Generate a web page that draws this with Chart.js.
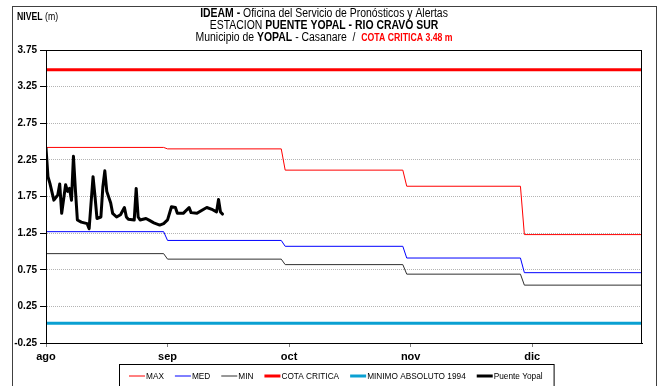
<!DOCTYPE html>
<html>
<head>
<meta charset="utf-8">
<script src="https://cdn.jsdelivr.net/npm/chart.js@4.4.1/dist/chart.umd.min.js"></script>
<style>
  html, body { margin: 0; padding: 0; background: #ffffff; }
  canvas { display: block; }
</style>
</head>
<body>
<canvas id="chart" width="659" height="386"></canvas>
<script>
// x axis is counted in days from 1 August
const monthLabels = ['ago', 'sep', 'oct', 'nov', 'dic'];
const monthTickDays = [0, 31, 62, 93, 124];
const lastDay = 152;

// Monthly reference levels (m), each holding from the first day of its month
const monthStartDays = [0, 31, 61, 92, 122];
const maxLevels = [2.42, 2.40, 2.11, 1.89, 1.23];
const medLevels = [1.27, 1.15, 1.07, 0.91, 0.71];
const minLevels = [0.97, 0.895, 0.82, 0.69, 0.54];

const cotaCritica = 3.48;
const minimoAbsoluto = 0.02;

const yTicks = [-0.25, 0.25, 0.75, 1.25, 1.75, 2.25, 2.75, 3.25, 3.75];

// Puente Yopal gauge readings: day from 1 August, level (m)
const obsDays = [
  0, 0.5, 1, 2, 3, 3.5, 4, 5, 5.5, 6, 6.5, 7, 7.5, 8, 9, 10.5, 11, 12, 12.5, 13,
  14, 14.5, 15, 15.5, 16.5, 17, 18, 19, 20, 20.5, 21, 22.5, 23, 23.5, 24, 25.5,
  26.5, 27.5, 29, 30, 31, 32, 33, 33.5, 35, 36.5, 37, 38.5, 40, 41, 42.5, 43.5,
  44, 44.5, 45
];
const obsLevels = [
  2.41, 2.02, 1.93, 1.70, 1.77, 1.92, 1.52, 1.91, 1.82, 1.86, 1.70, 2.30, 1.84, 1.43, 1.40, 1.38, 1.31, 2.02, 1.75, 1.45,
  1.47, 1.88, 2.10, 1.82, 1.66, 1.52, 1.47, 1.50, 1.60, 1.47, 1.44, 1.43, 1.86, 1.47, 1.43, 1.45,
  1.42, 1.39, 1.36, 1.38, 1.43, 1.61, 1.60, 1.52, 1.52, 1.60, 1.53, 1.52, 1.57, 1.60, 1.57, 1.54,
  1.71, 1.54, 1.51
];

const SANS = "'Liberation Sans', Arial, sans-serif";
// condensed look for title, caption and legend text
const NARROW_SCALE = 0.87;

// Turn monthly levels into a stepped line (value changes between the last
// day of one month and the first day of the next)
function monthlySteps(levels) {
  const pts = [];
  levels.forEach((v, i) => {
    const start = monthStartDays[i];
    const end = i < levels.length - 1 ? monthStartDays[i + 1] - 1 : lastDay;
    pts.push({ x: start, y: v }, { x: end, y: v });
  });
  return pts;
}

function flatLine(v) {
  return [{ x: 0, y: v }, { x: lastDay, y: v }];
}

const series = [
  { label: 'MAX', data: monthlySteps(maxLevels), color: '#ff0000', width: 1, order: 4 },
  { label: 'MED', data: monthlySteps(medLevels), color: '#0000ff', width: 1, order: 5 },
  { label: 'MIN', data: monthlySteps(minLevels), color: '#303030', width: 1, order: 6 },
  { label: 'COTA CRITICA', data: flatLine(cotaCritica), color: '#ff0000', width: 3, order: 2 },
  { label: 'MINIMO ABSOLUTO 1994', data: flatLine(minimoAbsoluto), color: '#0aa0d2', width: 3, order: 3 },
  { label: 'Puente Yopal', data: obsDays.map((d, i) => ({ x: d, y: obsLevels[i] })), color: '#000000', width: 3, order: 0 }
];

// text drawn horizontally condensed
function narrowText(ctx, text, x, y, k) {
  ctx.save();
  ctx.translate(x, y);
  ctx.scale(k, 1);
  ctx.fillText(text, 0, 0);
  ctx.restore();
  return ctx.measureText(text).width * k;
}

function drawRuns(ctx, runs, cx, cy) {
  const fontOf = r => (r.bold ? 'bold ' : '') + (r.size || 12) + 'px ' + SANS;
  let total = 0;
  runs.forEach(r => { ctx.font = fontOf(r); total += ctx.measureText(r.text).width * NARROW_SCALE; });
  let x = cx - total / 2;
  ctx.textAlign = 'left';
  ctx.textBaseline = 'middle';
  runs.forEach(r => {
    ctx.font = fontOf(r);
    ctx.fillStyle = r.color || '#000000';
    x += narrowText(ctx, r.text, x, cy, NARROW_SCALE);
  });
}

const decorations = {
  id: 'decorations',
  beforeDraw(chart) {
    const ctx = chart.ctx;
    ctx.save();
    ctx.fillStyle = '#ffffff';
    ctx.fillRect(0, 0, chart.width, chart.height);
    ctx.restore();
  },
  afterDraw(chart) {
    const ctx = chart.ctx;
    const a = chart.chartArea;
    ctx.save();

    // outer frame
    ctx.strokeStyle = '#404040';
    ctx.lineWidth = 1;
    ctx.strokeRect(12.5, 6.5, 644, 400);

    // plot border
    ctx.strokeStyle = '#000000';
    ctx.strokeRect(Math.round(a.left) + 0.5, Math.round(a.top) + 0.5,
                   Math.round(a.right - a.left) - 1, Math.round(a.bottom - a.top));

    // titles
    const cx = 324;
    drawRuns(ctx, [
      { text: 'IDEAM - ', bold: true },
      { text: 'Oficina del Servicio de Pronósticos y Alertas' }
    ], cx, 14);
    drawRuns(ctx, [
      { text: 'ESTACION ' },
      { text: 'PUENTE YOPAL - RIO CRAVO SUR', bold: true }
    ], cx, 26);
    drawRuns(ctx, [
      { text: 'Municipio de ' },
      { text: 'YOPAL', bold: true },
      { text: ' - Casanare  /  ' },
      { text: 'COTA CRITICA ' + cotaCritica.toFixed(2) + ' m', bold: true, color: '#ff0000', size: 10 }
    ], cx, 38);

    // y axis caption
    ctx.textAlign = 'left';
    ctx.textBaseline = 'middle';
    ctx.fillStyle = '#000000';
    ctx.font = 'bold 10px ' + SANS;
    let cxp = 17 + narrowText(ctx, 'NIVEL ', 17, 17, NARROW_SCALE);
    ctx.font = '10px ' + SANS;
    narrowText(ctx, '(m)', cxp, 17, NARROW_SCALE);

    // legend
    const ly = 376;
    const lk = 0.87;
    let x = 129;
    ctx.font = '9.5px ' + SANS;
    const items = [];
    series.forEach(s => {
      items.push({ s, x });
      x += 16 + 1 + ctx.measureText(s.label).width * lk + 11;
    });
    ctx.strokeStyle = '#000000';
    ctx.lineWidth = 1;
    ctx.strokeRect(119.5, 364.5, x - 119, 30);
    items.forEach(({ s, x }) => {
      ctx.strokeStyle = s.color;
      ctx.lineWidth = s.width;
      ctx.beginPath();
      ctx.moveTo(x, ly);
      ctx.lineTo(x + 16, ly);
      ctx.stroke();
      ctx.fillStyle = '#000000';
      ctx.textBaseline = 'middle';
      narrowText(ctx, s.label, x + 17, ly, lk);
    });
    ctx.restore();
  }
};

new Chart(document.getElementById('chart'), {
  type: 'line',
  data: {
    datasets: series.map(s => ({
      label: s.label,
      data: s.data,
      borderColor: s.color,
      backgroundColor: s.color,
      borderWidth: s.width,
      borderJoinStyle: 'round',
      borderCapStyle: 'round',
      pointRadius: 0,
      pointHoverRadius: 0,
      tension: 0,
      fill: false,
      order: s.order
    }))
  },
  options: {
    responsive: false,
    animation: false,
    layout: { padding: { left: 0, right: 17, top: 50, bottom: 0 } },
    plugins: {
      legend: { display: false },
      title: { display: false },
      tooltip: { enabled: false }
    },
    scales: {
      x: {
        type: 'linear',
        min: 0,
        max: lastDay,
        afterBuildTicks: scale => { scale.ticks = monthTickDays.map(v => ({ value: v })); },
        afterFit: scale => { scale.height = 43; },
        ticks: {
          autoSkip: false,
          maxRotation: 0,
          padding: 3,
          color: '#000000',
          font: { family: SANS, size: 11, weight: 'bold' },
          callback: (v) => monthLabels[monthTickDays.indexOf(v)]
        },
        grid: {
          drawOnChartArea: false,
          drawTicks: true,
          tickLength: 4,
          tickColor: '#808080'
        },
        border: { display: true, color: '#000000', width: 1 }
      },
      y: {
        type: 'linear',
        min: -0.25,
        max: 3.75,
        afterBuildTicks: scale => { scale.ticks = yTicks.map(v => ({ value: v })); },
        afterFit: scale => { scale.width = 46; },
        ticks: {
          padding: 3,
          color: '#000000',
          font: { family: SANS, size: 10, weight: 'bold' },
          callback: v => v.toFixed(2)
        },
        grid: {
          color: '#b4b4b4',
          lineWidth: 1,
          drawTicks: true,
          tickLength: 6,
          tickColor: '#000000',
          tickBorderDash: []
        },
        border: { display: true, color: '#000000', width: 1, dash: [1, 1] }
      }
    }
  },
  plugins: [decorations]
});
</script>
</body>
</html>
